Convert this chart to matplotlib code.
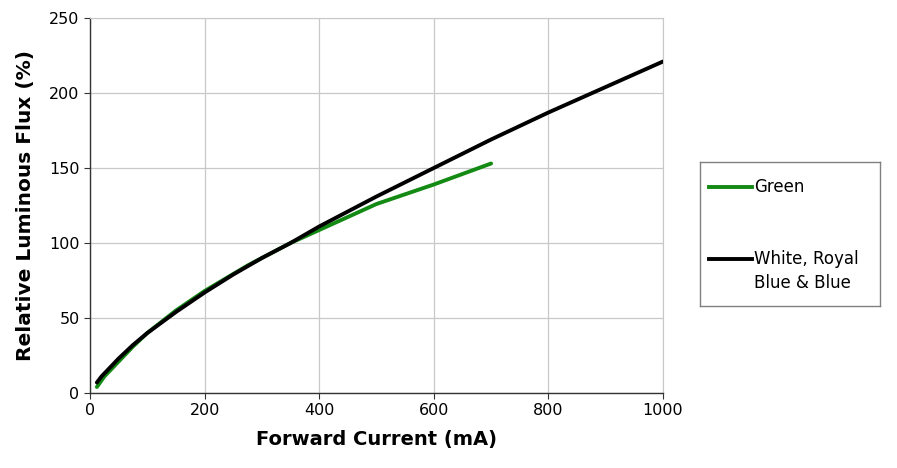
import matplotlib
matplotlib.use("Agg")
import matplotlib.pyplot as plt

white_x = [12, 20, 30, 50, 75, 100, 150, 200, 250, 300, 350, 400, 500, 600, 700, 800, 900, 1000]
white_y = [7, 11, 15, 23, 32, 40, 54, 67, 79, 90, 100, 111, 131, 150, 169, 187, 204, 221]
green_x = [12, 25, 50, 75, 100, 150, 200, 275, 350, 425, 500, 600, 700]
green_y = [4, 11, 21, 31, 40, 55, 68, 85, 100, 113, 126, 139, 153]

xticks = [0, 200, 400, 600, 800, 1000]
yticks = [0, 50, 100, 150, 200, 250]

fig = plt.figure(figsize=(8.97, 4.68), dpi=100)
ax = fig.add_axes([90/897, 1-393/468, (663-90)/897, (393-18)/468])

ax.plot(green_x, green_y, color="#138a13", lw=2.8, solid_capstyle="round", zorder=3)
ax.plot(white_x, white_y, color="black", lw=2.8, solid_capstyle="round", zorder=4)

ax.set_xlim(0, 1000)
ax.set_ylim(0, 250)
ax.set_xticks(xticks)
ax.set_yticks(yticks)
ax.grid(True, color="#c8c8c8", lw=0.9)
ax.set_axisbelow(True)
for s in ["top", "right"]:
    ax.spines[s].set_color("#c8c8c8")
for s in ["left", "bottom"]:
    ax.spines[s].set_color("#333333")
    ax.spines[s].set_linewidth(1.0)
ax.tick_params(axis="both", labelsize=11.5, length=4, color="#333333", direction="out")
ax.set_xlabel("Forward Current (mA)", fontsize=14, fontweight="bold", labelpad=8)
ax.set_ylabel("Relative Luminous Flux (%)", fontsize=14.5, fontweight="bold", labelpad=10)

# legend box
lax = fig.add_axes([700/897, 1-306/468, 180/897, 144/468])
lax.set_xlim(0, 180)
lax.set_ylim(144, 0)
lax.set_xticks([])
lax.set_yticks([])
for s in lax.spines.values():
    s.set_color("#808080")
    s.set_linewidth(1.0)
lax.plot([9, 52], [25, 25], color="#138a13", lw=2.8)
lax.text(54, 25, "Green", fontsize=12, va="center", ha="left")
lax.plot([9, 52], [97, 97], color="black", lw=2.8)
lax.text(54, 97, "White, Royal", fontsize=12, va="center", ha="left")
lax.text(54, 121, "Blue & Blue", fontsize=12, va="center", ha="left")

fig.savefig("out.png", dpi=100)
